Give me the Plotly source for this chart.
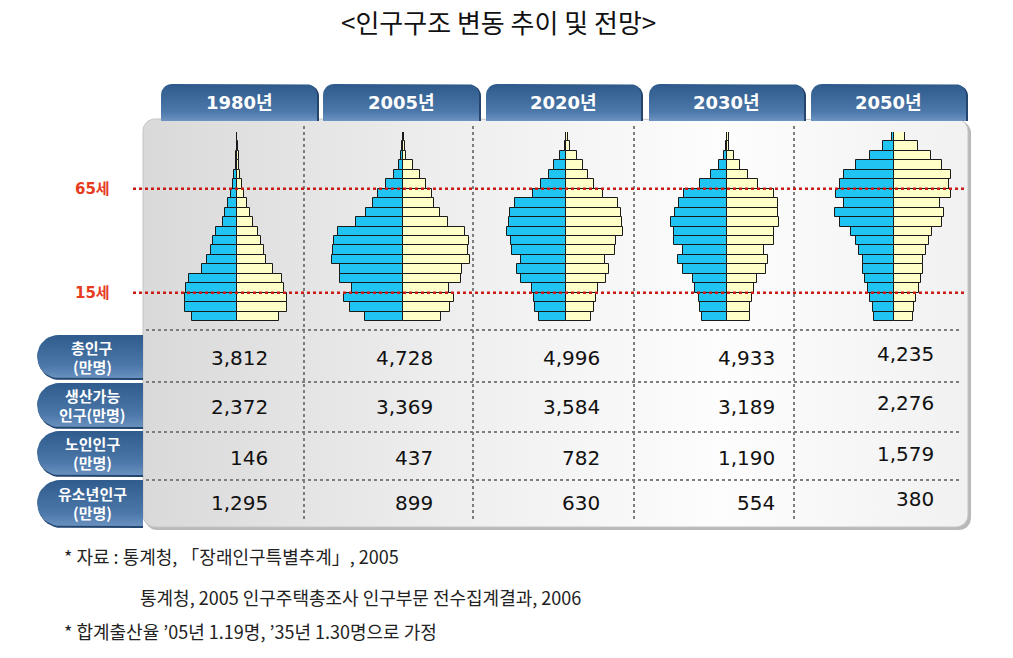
import math
import plotly.graph_objects as go

W, H = 1013, 658

# ---------------- data ----------------
YEARS = ["1980년", "2005년", "2020년", "2030년", "2050년"]
N_ROWS = 20  # age rows drawn in each pyramid (bottom -> top)

MALE_1980 = [45, 52.5, 52.5, 51, 48.3, 35.3, 30, 26, 24.3, 21, 14.3, 12, 9.3, 6, 4.3, 2.7, 1.3, 1, 0.3, 0.2]
FEMALE_1980 = [42, 49.5, 49.7, 47.3, 45, 35.7, 29, 27.3, 24, 20.7, 15.7, 13.3, 9.7, 7.3, 5, 3.3, 2.3, 1.7, 1, 0.4]
MALE_2005 = [38.3, 53.3, 59.3, 51, 63.3, 63.3, 71.3, 70, 68.7, 64.7, 46.7, 36.7, 30, 24.7, 16.7, 9.3, 4.3, 2, 1, 0.3]
FEMALE_2005 = [38.3, 47.3, 50.7, 45.7, 58, 59, 66.7, 64.7, 65.7, 62.3, 44.7, 36.7, 30.7, 29, 23, 16.7, 10, 3.3, 2.3, 1.3]
MALE_2020 = [27.3, 30.7, 31.7, 34, 44.7, 49, 44.7, 54, 54.7, 59, 57.3, 55.7, 50.7, 33.3, 24.7, 17.3, 11.7, 5.7, 1.3, 0.3]
FEMALE_2020 = [25.3, 27.7, 30, 31.7, 39.7, 42.7, 38.7, 49.3, 50, 56.7, 56, 55.3, 51.7, 36.7, 27.7, 21.7, 17, 11, 4.3, 2]
MALE_2030 = [25, 26.7, 28.3, 31.7, 34, 44.3, 49.3, 44.3, 52.7, 53.3, 56, 52.3, 48.3, 42.7, 26.7, 15.7, 8.3, 3.3, 1, 0.3]
FEMALE_2030 = [22.7, 23.3, 25, 27.3, 30, 39, 40.7, 36.7, 47.3, 47.3, 51.7, 51, 51, 46.7, 30.7, 21, 12.7, 6.7, 2.3, 1.7]
MALE_2050 = [20.3, 21, 23.7, 26.3, 29.3, 31.3, 31.3, 35.3, 38, 42.7, 54.3, 59.3, 50.3, 58, 53.7, 50.3, 37.7, 23.7, 11, 1.7]
FEMALE_2050 = [18.7, 19.7, 22, 24.7, 27.3, 28.7, 28.7, 32.3, 34.7, 38, 48, 49.7, 45.7, 57, 54.7, 57, 48, 37, 23.7, 10.7]

MALE = [MALE_1980, MALE_2005, MALE_2020, MALE_2030, MALE_2050]
FEMALE = [FEMALE_1980, FEMALE_2005, FEMALE_2020, FEMALE_2030, FEMALE_2050]

AGE_MARKS = ["15세", "65세"]
AGE_MARK_ROWS = [3, 14]

ROW_LABELS = [("총인구", "(만명)"), ("생산가능", "인구(만명)"), ("노인인구", "(만명)"), ("유소년인구", "(만명)")]
TOTAL = [3812, 4728, 4996, 4933, 4235]
WORKING = [2372, 3369, 3584, 3189, 2276]
ELDERLY = [146, 437, 782, 1190, 1579]
YOUTH = [1295, 899, 630, 554, 380]
TABLE = [TOTAL, WORKING, ELDERLY, YOUTH]

TITLE = "&lt;인구구조 변동 추이 및 전망&gt;"
NOTES = [
    "* 자료 : 통계청, 「장래인구특별추계」, 2005",
    "통계청, 2005 인구주택총조사 인구부문 전수집계결과, 2006",
    "* 합계출산율 ’05년 1.19명, ’35년 1.30명으로 가정",
]

# ---------------- layout geometry (pixels) ----------------
PYR_CENTERS = [237, 403, 566, 727, 894]
HALF = 80
PYR_BOTTOM, PYR_TOP = 321, 132
TAB_X = [(161, 317), (323, 479), (486, 641), (649, 804), (811, 966)]
TAB_Y = (84, 121)
PANEL = (143, 119, 968, 527)
PILL_Y = [(335, 378), (383, 427), (431, 475), (480, 526)]
PILL_X = (37, 143)
VSEP_X = [304, 473, 634, 794]
HSEP_Y = [330, 382, 432, 480]
VAL_RIGHT = [270, 435, 602, 777, 936]
VAL_Y = [358, 407, 458, 503]
VAL_SHIFT = [0, 0, 0, 0, -4]

BLUE = "#1fc4f2"
CREAM = "#ffffc8"
FONT_KR = "Noto Sans CJK KR"
FONT_NUM = "DejaVu Sans, Noto Sans CJK KR"


def rrect(x0, y0, x1, y1, rtl, rtr, rbr, rbl, n=10):
    xs, ys = [], []

    def arc(cx, cy, r, a0, a1):
        for k in range(n + 1):
            a = math.radians(a0 + (a1 - a0) * k / n)
            xs.append(cx + r * math.cos(a))
            ys.append(cy + r * math.sin(a))

    xs.append(x0 + rtl); ys.append(y0)
    if rtr: arc(x1 - rtr, y0 + rtr, rtr, -90, 0)
    else: xs.append(x1); ys.append(y0)
    if rbr: arc(x1 - rbr, y1 - rbr, rbr, 0, 90)
    else: xs.append(x1); ys.append(y1)
    if rbl: arc(x0 + rbl, y1 - rbl, rbl, 90, 180)
    else: xs.append(x0); ys.append(y1)
    if rtl: arc(x0 + rtl, y0 + rtl, rtl, 180, 270)
    else: xs.append(x0); ys.append(y0)
    xs.append(xs[0]); ys.append(ys[0])
    return xs, ys


fig = go.Figure()

# decorative background on a full-page pixel axis (x / y)
def deco(xs, ys, grad=None, color=None, line=None):
    kw = dict(x=xs, y=ys, mode="lines", fill="toself", hoverinfo="skip",
              showlegend=False, xaxis="x", yaxis="y",
              line=line or dict(width=0, color="rgba(0,0,0,0)"))
    if grad:
        kw["fillgradient"] = grad
    else:
        kw["fillcolor"] = color
    fig.add_trace(go.Scatter(**kw))

px0, py0, px1, py1 = PANEL
deco(*rrect(px0 + 2, py0 + 2, px1 + 3, py1 + 3, 12, 12, 12, 12), color="#b9b9b9")
deco(*rrect(px0, py0, px1, py1, 12, 12, 12, 12),
     grad=dict(type="horizontal",
               colorscale=[[0, "#d9d9d9"], [0.35, "#ededed"], [0.7, "#fdfdfd"], [1, "#f1f1f1"]]),
     line=dict(width=1, color="#c4c4c4"))

TAB_GRAD = dict(type="vertical",
                colorscale=[[0, "#6d94c2"], [0.25, "#4c78aa"], [1, "#2d5a8b"]])
for (x0, x1) in TAB_X:
    deco(*rrect(x0 + 2, TAB_Y[0] + 1, x1 + 2, TAB_Y[1], 11, 11, 0, 0), color="#24466e")
    deco(*rrect(x0, TAB_Y[0], x1, TAB_Y[1], 11, 11, 0, 0), grad=TAB_GRAD)

for (y0, y1) in PILL_Y:
    r = (y1 - y0) / 2
    deco(*rrect(PILL_X[0] + 1, y0 + 2, PILL_X[1], y1 + 2, r, 0, 0, r), color="#23466f")
    deco(*rrect(PILL_X[0], y0, PILL_X[1], y1, r, 0, 0, r),
         grad=dict(type="vertical", colorscale=[[0, "#6a91bf"], [0.3, "#4a76a8"], [1, "#2f5c8d"]]))

# pyramids
rows = [r + 0.5 for r in range(N_ROWS)]
for i, year in enumerate(YEARS):
    xa = f"x{i + 2}"
    fig.add_trace(go.Bar(y=rows, x=[-v for v in MALE[i]], orientation="h", width=1,
                         marker=dict(color=BLUE, line=dict(color="#1a1a1a", width=1)),
                         xaxis=xa, yaxis="y2", showlegend=False, name=f"{year} 남자"))
    fig.add_trace(go.Bar(y=rows, x=FEMALE[i], orientation="h", width=1,
                         marker=dict(color=CREAM, line=dict(color="#1a1a1a", width=1)),
                         xaxis=xa, yaxis="y2", showlegend=False, name=f"{year} 여자"))

hidden = dict(visible=False, showgrid=False, zeroline=False, fixedrange=True)
layout = dict(
    width=W, height=H, margin=dict(l=0, r=0, t=0, b=0),
    paper_bgcolor="white", plot_bgcolor="rgba(0,0,0,0)",
    barmode="overlay", bargap=0, showlegend=False,
    xaxis=dict(domain=[0, 1], range=[0, W], **hidden),
    yaxis=dict(domain=[0, 1], range=[H, 0], **hidden),
    yaxis2=dict(domain=[1 - PYR_BOTTOM / H, 1 - PYR_TOP / H], range=[0, N_ROWS], anchor="x2", **hidden),
)
for i, c in enumerate(PYR_CENTERS):
    layout[f"xaxis{i + 2}"] = dict(domain=[(c - HALF) / W, (c + HALF) / W], range=[-HALF, HALF],
                                   anchor="y2", **hidden)
fig.update_layout(**layout)

shapes = []
for x in VSEP_X:
    shapes.append(dict(type="line", xref="x", yref="y", x0=x, x1=x, y0=126, y1=522,
                       line=dict(color="#7d7d7d", width=2, dash="dot"), layer="above"))
for y in HSEP_Y:
    shapes.append(dict(type="line", xref="x", yref="y", x0=146, x1=960, y0=y, y1=y,
                       line=dict(color="#7d7d7d", width=2, dash="dot"), layer="above"))
for r in AGE_MARK_ROWS:
    shapes.append(dict(type="line", xref="x", yref="y2", x0=133, x1=966, y0=r, y1=r,
                       line=dict(color="#cc1b17", width=2.5, dash="dot"), layer="above"))
fig.update_layout(shapes=shapes)

ann = []
ann.append(dict(text=TITLE, xref="x", yref="y", x=498, y=21, showarrow=False,
                font=dict(family=FONT_KR, size=26, color="#111")))
for (x0, x1), year in zip(TAB_X, YEARS):
    ann.append(dict(text=f"<b>{year}</b>", xref="x", yref="y", x=(x0 + x1) / 2, y=102, showarrow=False,
                    font=dict(family=FONT_NUM, size=18, color="white")))
for lab, r in zip(AGE_MARKS, AGE_MARK_ROWS):
    ann.append(dict(text=f"<b>{lab}</b>", xref="x", yref="y2", x=92, y=r, showarrow=False,
                    font=dict(family=FONT_NUM, size=15, color="#e63c1e")))
for (y0, y1), (l1, l2) in zip(PILL_Y, ROW_LABELS):
    cx = (PILL_X[0] + PILL_X[1]) / 2 + 2
    mid = (y0 + y1) / 2
    for txt, dy in ((l1, -9.5), (l2, 9.5)):
        ann.append(dict(text=f"<b>{txt}</b>", xref="x", yref="y", x=cx, y=mid + dy,
                        showarrow=False, yanchor="middle",
                        font=dict(family=FONT_KR, size=15, color="white")))
for ri, vals in enumerate(TABLE):
    for ci, v in enumerate(vals):
        ann.append(dict(text=f"{v:,}", xref="x", yref="y", x=VAL_RIGHT[ci], y=VAL_Y[ri] + VAL_SHIFT[ci],
                        xanchor="right", showarrow=False,
                        font=dict(family=FONT_NUM, size=20, color="#111")))
for txt, (x, y) in zip(NOTES, [(62, 556), (138, 597), (62, 631)]):
    ann.append(dict(text=txt, xref="x", yref="y", x=x, y=y, xanchor="left", showarrow=False,
                    font=dict(family=FONT_KR, size=18, color="#222")))
fig.update_layout(annotations=ann)

fig.write_html("out.html", config=dict(displayModeBar=False),
               post_script="document.body.style.margin='0';")
